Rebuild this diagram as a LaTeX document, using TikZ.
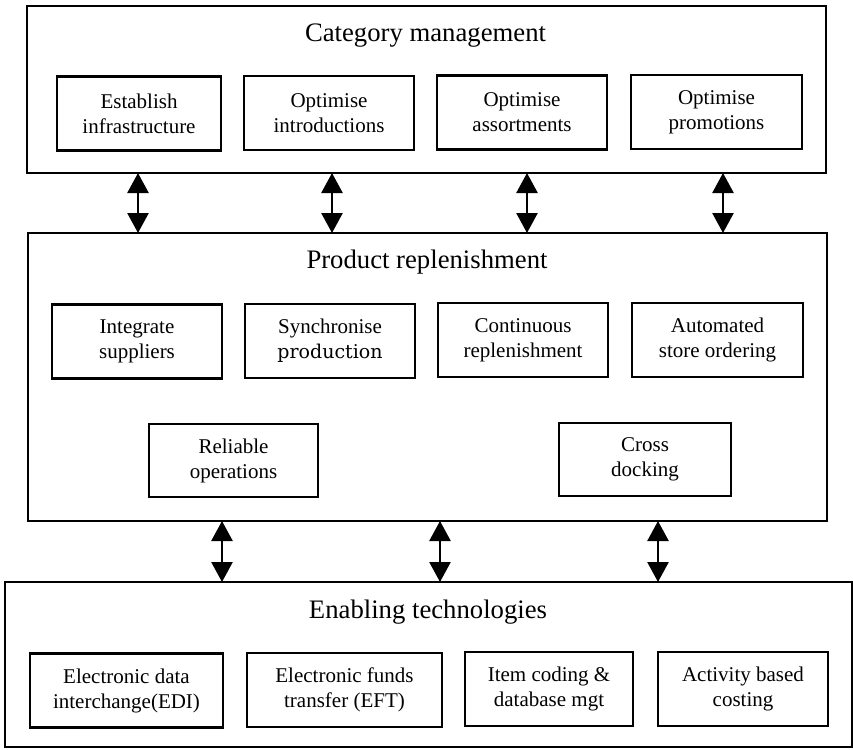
\documentclass[tikz,border=0pt]{standalone}
\usepackage{fontspec}
\setmainfont{Liberation Serif}
\newfontfamily\prodfont{DejaVu Serif}
\usetikzlibrary{arrows.meta}
\begin{document}
\begin{tikzpicture}[x=1pt,y=-1pt,
  outerbox/.style={draw, line width=2pt, minimum width=#1, inner sep=0pt},
  innerbox/.style={draw, line width=2.2pt, align=center, inner sep=0pt,
    font=\fontsize{21}{25}\selectfont, minimum height=74pt},
  titletext/.style={anchor=base, inner sep=0pt, font=\fontsize{26.7}{30}\selectfont},
  biarrow/.style={line width=2.6pt, {Triangle[width=21pt,length=20pt]}-{Triangle[width=21pt,length=20pt]}, shorten <=-1pt, shorten >=-1pt}
]
\useasboundingbox (0,0) rectangle (853,749);
\fill[white] (0,0) rectangle (853,749);

% outer boxes
\node[outerbox=799pt, minimum height=167pt] (top) at (426.5,89.5) {};
\node[outerbox=799pt, minimum height=288pt] (mid) at (427.5,377) {};
\node[outerbox=847pt, minimum height=165pt] (bot) at (428.5,664.5) {};

% titles
\node[titletext] (toptitle) at (425.5,41.5) {Category management};
\node[titletext] (midtitle) at (427,268) {Product replenishment};
\node[titletext] (bottitle) at (428,618) {Enabling technologies};

% top row
\node[innerbox, minimum width=164pt] (est) at (139,113.5) {Establish\\infrastructure};
\node[innerbox, minimum width=170pt] (intro) at (329,113) {Optimise\\introductions};
\node[innerbox, minimum width=170pt] (assort) at (522,112.5) {Optimise\\assortments};
\node[innerbox, minimum width=171pt] (promo) at (716.5,112) {Optimise\\promotions};

% middle rows
\node[innerbox, minimum width=170pt] (integ) at (137,341.5) {Integrate\\suppliers};
\node[innerbox, minimum width=170pt] (sync) at (330,341) {Synchronise\\{\prodfont\fontsize{19}{25}\selectfont production}};
\node[innerbox, minimum width=170pt] (cont) at (523,340) {Continuous\\replenishment};
\node[innerbox, minimum width=171pt] (auto) at (717.5,340) {Automated\\store ordering};
\node[innerbox, minimum width=169pt, minimum height=73pt] (rel) at (233.5,460.5) {Reliable\\operations};
\node[innerbox, minimum width=172pt, minimum height=73pt] (cross) at (645,459.5) {Cross\\docking};

% bottom row
\node[innerbox, minimum width=193pt] (edi) at (126.5,690.5) {Electronic data\\interchange(EDI)};
\node[innerbox, minimum width=195pt] (eft) at (344.5,690) {Electronic funds\\transfer (EFT)};
\node[innerbox, minimum width=168pt] (item) at (549,689) {Item coding \&\\database mgt};
\node[innerbox, minimum width=170pt] (abc) at (743,689) {Activity based\\costing};

% arrow positions
\coordinate (a1) at (138,0);
\coordinate (a2) at (332,0);
\coordinate (a3) at (527,0);
\coordinate (a4) at (723,0);
\coordinate (b1) at (222,0);
\coordinate (b2) at (440,0);
\coordinate (b3) at (658,0);

\draw[biarrow] (a1 |- top.south) -- (a1 |- mid.north);
\draw[biarrow] (a2 |- top.south) -- (a2 |- mid.north);
\draw[biarrow] (a3 |- top.south) -- (a3 |- mid.north);
\draw[biarrow] (a4 |- top.south) -- (a4 |- mid.north);
\draw[biarrow] (b1 |- mid.south) -- (b1 |- bot.north);
\draw[biarrow] (b2 |- mid.south) -- (b2 |- bot.north);
\draw[biarrow] (b3 |- mid.south) -- (b3 |- bot.north);
\end{tikzpicture}
\end{document}
